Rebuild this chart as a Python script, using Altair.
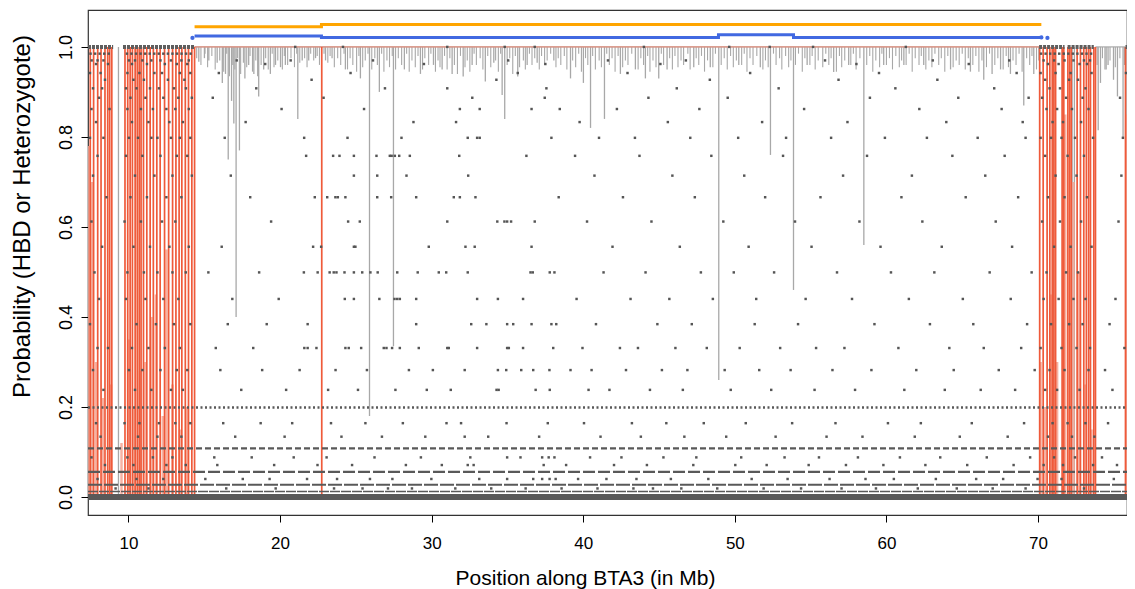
import altair as alt
import pandas as pd

FONT = "Liberation Sans"
X_DOMAIN = [7.33, 75.87]
Y_DOMAIN = [-0.04, 1.082]

# ---- HBD segment tracks at the top ----
orange_x = [14.36, 22.73, 70.22]
orange_y = [1.045, 1.050, 1.050]
blue_x = [14.36, 22.73, 48.92, 53.87, 70.22]
blue_y = [1.024, 1.021, 1.027, 1.021, 1.021]
blue_dot_x = [14.22, 70.22, 70.62]
blue_dot_y = [1.020, 1.021, 1.020]

# ---- red probability line (full-height swings) ----
red_x = [7.48, 7.70, 7.97, 8.19, 8.45, 8.63, 8.76, 8.90, 9.77, 9.95, 10.11, 10.26,
         10.44, 10.58, 10.71, 10.83, 10.99, 11.21, 11.43, 11.64, 11.87, 12.09, 12.38,
         12.65, 12.91, 13.13, 13.34, 13.52, 13.75, 13.96, 14.18, 14.36,
         22.75,
         70.11, 70.34, 70.60, 70.78, 70.94, 71.05, 71.16, 71.59, 71.70, 71.97, 72.09,
         72.19, 72.58, 72.80, 73.02, 73.19, 73.34, 73.46, 73.68, 73.79, 75.77]
# partial (lighter) swings: position and top value
salmon_x = [7.41, 7.58, 7.86, 8.31, 8.85, 9.54, 10.03, 10.33, 10.77, 11.12, 11.52,
            11.81, 12.26, 12.51, 12.90, 13.39, 13.88,
            70.17, 70.47, 70.86, 71.26, 71.80, 72.34, 72.69, 73.13, 73.53, 75.83]
salmon_top = [0.78, 0.70, 0.30, 0.22, 0.25, 0.12, 0.35, 0.20, 0.28, 0.30, 0.40,
              0.45, 0.18, 0.55, 0.25, 0.15, 0.20,
              0.30, 0.20, 0.45, 0.30, 0.85, 0.70, 0.50, 0.25, 0.15, 0.85]
red_top_start = [14.36]
red_top_end = [70.22]

# ---- grey probability line: flat at 1.0 with dips ----
grey_base_start = [14.36, 73.79]
grey_base_end = [70.22, 75.77]
dip_x = [14.64, 15.01, 15.30, 15.85, 16.19, 16.40, 16.58, 16.80, 16.95, 17.10, 17.32,
         17.68, 17.93, 18.27, 18.59, 18.92, 19.36, 19.70, 20.03, 20.35, 21.17, 21.46,
         21.89, 22.34, 23.00, 23.43, 24.31, 25.30, 25.90, 26.55, 27.48, 28.20, 29.26,
         30.12, 30.69, 31.35, 32.08, 32.67, 33.54, 34.10, 34.65, 34.82, 35.68, 36.30,
         36.96, 38.06, 39.16, 40.01, 40.48, 41.40, 42.45, 43.44, 44.10, 44.98, 45.53,
         47.29, 48.38, 48.94, 50.26, 51.68, 52.35, 53.87, 54.77, 56.52, 57.51, 58.51,
         59.82, 61.15, 62.46, 64.23, 65.54, 66.42, 66.97, 67.53, 68.18, 69.06, 69.72,
         73.97, 74.12, 74.42, 74.62, 74.98, 75.24, 75.61,
         9.34, 71.02, 72.25, 72.40]
dip_y = [0.967, 0.975, 0.970, 0.965, 0.920, 0.940, 0.750, 0.880, 0.830, 0.400, 0.770,
         0.930, 0.960, 0.940, 0.890, 0.950, 0.940, 0.960, 0.955, 0.960, 0.840, 0.970,
         0.970, 0.975, 0.970, 0.975, 0.950, 0.930, 0.180, 0.900, 0.335, 0.950, 0.940,
         0.960, 0.950, 0.940, 0.934, 0.960, 0.923, 0.965, 0.893, 0.840, 0.934, 0.960,
         0.965, 0.970, 0.930, 0.920, 0.820, 0.840, 0.940, 0.950, 0.930, 0.930, 0.950,
         0.955, 0.955, 0.260, 0.960, 0.955, 0.760, 0.460, 0.960, 0.944, 0.960, 0.560,
         0.960, 0.960, 0.960, 0.950, 0.945, 0.927, 0.940, 0.950, 0.940, 0.870, 0.940,
         0.815, 0.920, 0.950, 0.960, 0.927, 0.890, 0.800,
         0.000, 0.110, 0.000, 0.000]
# small dips that give the line its hairy look (position, minimum)
fuzz = [(14.50, 0.975), (14.78, 0.960), (15.05, 0.985), (15.22, 0.955), (15.50, 0.980),
        (15.72, 0.950), (16.02, 0.970), (16.28, 0.945), (16.48, 0.985), (16.66, 0.935),
        (16.88, 0.960), (17.02, 0.950), (17.20, 0.975), (17.40, 0.940), (17.58, 0.965),
        (17.80, 0.955), (18.02, 0.980), (18.18, 0.945), (18.40, 0.970), (18.52, 0.935),
        (18.75, 0.960), (19.05, 0.975), (19.22, 0.950), (19.48, 0.985), (19.60, 0.955),
        (19.85, 0.970), (20.15, 0.950), (20.28, 0.980), (20.50, 0.960), (20.72, 0.975),
        (20.95, 0.955), (21.10, 0.985), (21.30, 0.965), (21.62, 0.975), (21.78, 0.955),
        (22.02, 0.985), (22.22, 0.970), (22.45, 0.980), (22.60, 0.960), (22.90, 0.985),
        (23.15, 0.965), (23.30, 0.980), (23.58, 0.955), (23.80, 0.975), (24.00, 0.960),
        (24.22, 0.985), (24.45, 0.950), (24.62, 0.975), (24.80, 0.960), (25.05, 0.945),
        (25.20, 0.980), (25.45, 0.955), (25.62, 0.970), (25.80, 0.985), (26.05, 0.950),
        (26.25, 0.975), (26.42, 0.960), (26.70, 0.985), (26.85, 0.945), (27.05, 0.970),
        (27.22, 0.955), (27.40, 0.980), (27.62, 0.950), (27.80, 0.975), (28.02, 0.960),
        (28.35, 0.985), (28.52, 0.945), (28.70, 0.970), (28.92, 0.955), (29.10, 0.980),
        (29.40, 0.950), (29.55, 0.975), (29.80, 0.960), (29.95, 0.985), (30.25, 0.945),
        (30.42, 0.970), (30.55, 0.955), (30.85, 0.980), (31.02, 0.950), (31.20, 0.975),
        (31.50, 0.960), (31.70, 0.940), (31.90, 0.980), (32.20, 0.955), (32.35, 0.970),
        (32.52, 0.945), (32.80, 0.985), (32.95, 0.960), (33.20, 0.975), (33.38, 0.950),
        (33.70, 0.980), (33.90, 0.955), (34.22, 0.970), (34.40, 0.945), (34.55, 0.985),
        (34.98, 0.960), (35.15, 0.975), (35.35, 0.940), (35.52, 0.980), (35.80, 0.955),
        (36.05, 0.970), (36.18, 0.950), (36.45, 0.985), (36.62, 0.960), (36.80, 0.975),
        (37.10, 0.950), (37.25, 0.980), (37.45, 0.960), (37.62, 0.970), (37.85, 0.985),
        (38.20, 0.955), (38.35, 0.975), (38.52, 0.960), (38.75, 0.980), (38.92, 0.950),
        (39.30, 0.970), (39.50, 0.955), (39.70, 0.985), (39.88, 0.945), (40.15, 0.975),
        (40.30, 0.960), (40.62, 0.980), (40.80, 0.950), (41.05, 0.970), (41.20, 0.955),
        (41.55, 0.985), (41.72, 0.960), (41.90, 0.975), (42.10, 0.945), (42.30, 0.980),
        (42.60, 0.955), (42.78, 0.970), (42.95, 0.960), (43.20, 0.985), (43.62, 0.950),
        (43.80, 0.975), (43.98, 0.960), (44.25, 0.980), (44.40, 0.945), (44.60, 0.970),
        (44.80, 0.955), (45.15, 0.985), (45.30, 0.960), (45.70, 0.975), (45.88, 0.950),
        (46.05, 0.980), (46.25, 0.955), (46.45, 0.970), (46.62, 0.960), (46.90, 0.985),
        (47.05, 0.950), (47.45, 0.975), (47.62, 0.960), (47.80, 0.980), (48.00, 0.945),
        (48.20, 0.970), (48.55, 0.955), (48.72, 0.985), (49.10, 0.960), (49.30, 0.975),
        (49.50, 0.950), (49.72, 0.980), (49.90, 0.955), (50.10, 0.970), (50.45, 0.960),
        (50.62, 0.985), (50.80, 0.945), (51.00, 0.975), (51.20, 0.960), (51.45, 0.980),
        (51.85, 0.950), (52.02, 0.970), (52.20, 0.955), (52.55, 0.985), (52.72, 0.960),
        (52.95, 0.975), (53.10, 0.950), (53.35, 0.980), (53.55, 0.955), (53.70, 0.970),
        (54.00, 0.960), (54.20, 0.985), (54.45, 0.945), (54.62, 0.975), (54.95, 0.960),
        (55.10, 0.980), (55.30, 0.950), (55.50, 0.970), (55.80, 0.955), (56.00, 0.985),
        (56.20, 0.960), (56.35, 0.975), (56.70, 0.945), (56.90, 0.980), (57.05, 0.955),
        (57.25, 0.970), (57.65, 0.960), (57.82, 0.985), (58.00, 0.950), (58.25, 0.975),
        (58.70, 0.960), (58.90, 0.980), (59.10, 0.945), (59.30, 0.970), (59.55, 0.955),
        (59.70, 0.985), (60.00, 0.960), (60.20, 0.975), (60.40, 0.950), (60.62, 0.980),
        (60.85, 0.955), (61.00, 0.970), (61.30, 0.960), (61.50, 0.985), (61.70, 0.945),
        (61.90, 0.975), (62.15, 0.960), (62.30, 0.980), (62.60, 0.950), (62.80, 0.970),
        (63.00, 0.955), (63.20, 0.985), (63.45, 0.960), (63.62, 0.975), (63.85, 0.945),
        (64.05, 0.980), (64.40, 0.955), (64.60, 0.970), (64.80, 0.960), (65.00, 0.985),
        (65.20, 0.950), (65.40, 0.975), (65.70, 0.960), (65.90, 0.980), (66.10, 0.945),
        (66.30, 0.970), (66.60, 0.955), (66.80, 0.985), (67.15, 0.960), (67.35, 0.975),
        (67.70, 0.950), (67.90, 0.980), (68.05, 0.955), (68.35, 0.970), (68.55, 0.960),
        (68.75, 0.985), (68.95, 0.945), (69.25, 0.975), (69.45, 0.960), (69.60, 0.980),
        (69.90, 0.950), (70.05, 0.970),
        (73.90, 0.960), (74.25, 0.975), (74.50, 0.950), (74.75, 0.970), (75.10, 0.955),
        (75.40, 0.975), (75.70, 0.960)]

# ---- genotype-probability points: dense rows (drawn as dotted runs) ----
band_levels = [0.0, 0.012, 0.027, 0.056, 0.108, 0.199]
band_start = [7.33, 7.33, 7.33, 7.33, 7.33, 7.33]
band_end = [75.87, 75.87, 75.87, 75.87, 75.87, 75.87]
top_band_start = [7.33, 9.64, 70.07, 71.95, 75.77]
top_band_end = [8.99, 14.38, 71.75, 73.68, 75.87]

# ---- genotype-probability points: sparse rows ----
lvl_100 = [21.0, 24.15, 31.03, 34.82, 36.80, 44.0, 49.63, 52.30, 55.16, 61.28]
lvl_098 = [7.5, 7.8, 8.1, 8.4, 8.7, 9.9, 10.2, 10.5, 10.8, 11.1, 11.4, 11.7, 12.0, 12.3,
           12.6, 12.9, 13.2, 13.5, 13.8, 14.1, 70.2, 70.5, 70.8, 71.1, 71.4, 71.7, 72.0,
           72.3, 72.6, 72.9, 73.2, 73.5]
lvl_097 = [7.57, 7.96, 8.35, 10.03, 10.43, 10.92, 11.51, 12.11, 12.80, 13.49, 13.98, 17.14,
           20.70, 26.13, 35.05, 41.63, 46.77, 55.95, 63.06, 68.10, 70.37, 71.06, 71.75,
           72.34, 73.03, 73.43]
lvl_096 = [7.86, 8.65, 10.23, 11.22, 12.40, 13.19, 13.88, 19.02, 29.49, 37.50, 45.09, 58.02,
           65.43, 70.66, 71.36, 72.74, 73.23]
lvl_094 = [7.46, 8.16, 9.93, 10.72, 11.71, 12.21, 13.39, 14.08, 15.96, 24.65, 35.68, 42.92,
           51.01, 59.51, 68.59, 70.17, 71.16, 72.15, 73.53, 75.80]
lvl_093 = [8.45, 10.33, 11.02, 12.60, 13.69, 22.08, 34.27, 48.35, 56.84, 63.36, 70.47,
           72.05, 72.64]
lvl_091 = [7.66, 8.26, 9.84, 10.53, 11.42, 12.01, 13.00, 13.79, 18.43, 26.92, 31.03, 37.57,
           46.17, 52.89, 60.59, 67.11, 70.76, 71.45, 73.13]
lvl_089 = [8.06, 10.13, 11.12, 12.30, 13.29, 14.18, 15.56, 22.87, 32.68, 37.46, 44.30,
           49.53, 58.91, 64.74, 69.38, 70.27, 71.85, 72.94, 75.41]
lvl_086 = [7.56, 8.75, 9.93, 10.82, 11.61, 12.50, 13.09, 13.98, 20.10, 25.54, 31.86, 33.17,
           36.59, 38.45, 42.22, 47.66, 54.57, 62.17, 67.60, 70.56, 71.26, 72.24, 73.33]
lvl_083 = [7.86, 10.23, 11.32, 12.70, 13.59, 17.73, 28.80, 31.61, 39.76, 45.58, 51.80,
           57.43, 63.95, 68.99, 70.96, 71.65, 72.84]
lvl_080 = [7.46, 8.35, 10.03, 10.63, 11.51, 11.91, 12.80, 13.39, 14.08, 16.35, 21.59,
           24.45, 28.01, 32.38, 33.00, 33.17, 37.90, 41.04, 43.41, 47.06, 50.22, 53.38,
           56.35, 59.90, 62.67, 66.02, 69.18, 70.17, 70.86, 71.55, 72.44, 73.63, 75.60]
lvl_076 = [7.96, 9.84, 10.92, 12.11, 13.19, 13.88, 21.72, 23.50, 23.92, 24.87, 26.36, 27.24,
           27.36, 27.57, 27.86, 28.56, 31.82, 36.25, 39.46, 43.71, 48.45, 53.18, 58.72,
           64.35, 67.80, 70.47, 71.95, 73.03]
lvl_071 = [7.66, 10.43, 11.71, 12.90, 14.18, 16.75, 24.87, 26.41, 28.34, 32.41, 40.74,
           45.88, 50.62, 57.14, 61.68, 66.52, 71.16, 72.54, 75.50]
lvl_067 = [8.55, 10.13, 11.22, 12.50, 13.49, 18.03, 22.29, 23.11, 23.65, 23.81, 24.31,
           26.41, 27.33, 28.98, 31.46, 31.86, 32.89, 38.38, 42.62, 47.36, 52.00, 55.65,
           60.99, 65.23, 68.69, 70.66, 71.75, 73.23]
lvl_061 = [7.56, 9.74, 10.82, 12.21, 13.09, 19.41, 24.49, 25.26, 31.03, 34.33, 34.80,
           34.98, 35.24, 36.80, 40.25, 44.50, 49.24, 53.97, 58.22, 62.37, 67.21, 70.27,
           71.45, 72.84, 75.31]
lvl_056 = [8.26, 10.33, 11.42, 12.70, 13.98, 16.15, 22.18, 22.71, 24.87, 24.97, 29.81,
           32.23, 32.84, 36.59, 41.93, 46.37, 50.91, 55.06, 59.61, 63.65, 68.29, 71.06,
           72.15, 73.53]
lvl_050 = [7.76, 9.93, 11.02, 11.91, 12.90, 13.78, 15.27, 18.62, 21.57, 22.48, 23.27,
           23.54, 23.72, 24.25, 24.87, 25.42, 25.96, 26.44, 27.73, 29.08, 30.47, 30.96,
           32.38, 36.52, 36.67, 37.79, 38.10, 41.34, 44.11, 47.76, 49.93, 52.59, 56.74,
           60.30, 63.16, 66.81, 69.58, 70.56, 71.85, 72.64]
lvl_044 = [8.06, 9.84, 11.12, 12.30, 13.29, 16.85, 19.91, 24.27, 24.87, 26.55, 27.55,
           27.73, 27.90, 28.98, 33.00, 34.37, 36.03, 39.56, 43.12, 45.68, 48.55, 51.41,
           54.67, 57.73, 61.48, 65.04, 68.20, 70.37, 71.36, 72.34, 73.13, 75.11]
lvl_038 = [7.46, 10.53, 11.81, 13.00, 14.08, 16.55, 19.12, 21.82, 28.98, 32.61, 33.61,
           34.98, 35.38, 36.59, 37.90, 38.22, 40.84, 44.89, 47.16, 51.31, 54.17, 59.21,
           62.87, 65.73, 69.28, 70.86, 72.05, 72.94, 74.72]
lvl_033 = [7.96, 8.65, 10.23, 11.32, 12.40, 13.39, 15.76, 18.23, 21.60, 21.82, 22.40,
           24.31, 24.53, 25.35, 26.84, 27.02, 27.39, 27.90, 29.15, 31.03, 31.13, 33.00,
           34.98, 35.09, 36.03, 38.02, 39.95, 42.42, 43.61, 46.08, 48.15, 50.32, 52.99,
           55.36, 57.23, 60.79, 64.15, 66.42, 68.89, 70.17, 71.55, 72.54, 73.43, 75.70]
lvl_028 = [7.66, 10.03, 10.92, 12.11, 13.19, 13.88, 16.06, 18.82, 21.29, 23.66, 25.73,
           28.50, 30.08, 32.18, 34.37, 34.92, 35.91, 36.70, 37.77, 39.16, 40.55, 42.82,
           45.19, 46.87, 49.33, 51.61, 53.68, 56.44, 59.01, 61.97, 64.44, 67.41, 69.78,
           70.76, 71.75, 73.33, 74.42]
lvl_024 = [8.35, 10.43, 11.51, 12.80, 13.59, 17.44, 20.40, 23.17, 25.14, 27.61, 29.68,
           31.26, 34.28, 34.42, 36.86, 37.79, 40.35, 41.73, 44.40, 46.57, 49.73, 52.40,
           55.26, 57.93, 61.18, 63.85, 66.22, 68.49, 70.47, 71.26, 72.74, 74.91]
lvl_016 = [7.86, 9.74, 10.72, 12.01, 13.09, 14.08, 16.25, 18.72, 20.80, 23.36, 25.63,
           28.10, 30.98, 31.94, 34.94, 37.66, 40.05, 43.21, 45.48, 47.95, 50.72, 53.78,
           56.64, 60.10, 62.27, 65.63, 69.08, 70.96, 71.95, 73.13, 74.62]
lvl_013 = [8.16, 10.63, 11.91, 13.49, 17.04, 20.30, 24.05, 26.72, 29.58, 32.18, 33.73,
           37.09, 41.14, 43.80, 46.67, 49.43, 52.69, 56.05, 58.42, 61.87, 64.84, 68.00,
           70.66, 72.24, 73.72]
lvl_009 = [7.56, 9.93, 11.61, 12.90, 15.66, 18.13, 20.90, 23.07, 26.23, 29.29, 32.55,
           34.98, 35.86, 37.29, 37.72, 38.10, 40.45, 42.52, 45.29, 47.46, 50.42, 53.28,
           55.55, 58.12, 60.89, 63.55, 66.62, 69.48, 71.06, 72.44, 74.22]
lvl_007 = [8.45, 10.33, 12.50, 13.78, 15.86, 19.61, 22.47, 24.75, 28.30, 30.67, 32.38,
           32.77, 37.39, 38.87, 42.03, 44.20, 47.26, 50.03, 52.10, 54.87, 57.33, 59.80,
           62.57, 65.33, 68.39, 70.37, 71.65, 73.63, 75.21]
lvl_004 = [7.96, 10.53, 12.30, 15.07, 17.54, 19.31, 21.78, 23.76, 25.93, 27.41, 29.98,
           33.14, 34.98, 36.70, 37.29, 37.78, 38.18, 39.66, 41.53, 43.51, 45.78, 48.25,
           51.11, 53.48, 56.25, 58.62, 60.49, 63.26, 65.92, 67.70, 69.97, 71.55, 75.00]
lvl_002 = [9.15, 11.32, 16.45, 19.71, 23.56, 25.44, 27.12, 28.70, 31.56, 33.93, 36.20,
           38.57, 40.94, 43.31, 44.60, 46.47, 48.84, 51.90, 54.37, 57.04, 59.31, 62.07,
           64.64, 67.01, 69.18, 73.03]

sparse_rows = [
    (1.000, lvl_100), (0.985, lvl_098), (0.970, lvl_097), (0.962, lvl_096),
    (0.942, lvl_094), (0.927, lvl_093), (0.908, lvl_091), (0.887, lvl_089),
    (0.862, lvl_086), (0.833, lvl_083), (0.798, lvl_080), (0.758, lvl_076),
    (0.714, lvl_071), (0.666, lvl_067), (0.612, lvl_061), (0.556, lvl_056),
    (0.499, lvl_050), (0.440, lvl_044), (0.384, lvl_038), (0.331, lvl_033),
    (0.282, lvl_028), (0.238, lvl_024), (0.164, lvl_016), (0.134, lvl_013),
    (0.088, lvl_009), (0.071, lvl_007), (0.040, lvl_004), (0.019, lvl_002),
]

# ---------------------------------------------------------------------------
xs = alt.Scale(domain=X_DOMAIN, nice=False, zero=False)
ys = alt.Scale(domain=Y_DOMAIN, nice=False, zero=False)

x_axis = alt.Axis(values=[10, 20, 30, 40, 50, 60, 70], grid=False, domain=False,
                  tickSize=7, tickColor="#000", labelColor="#000", labelFontSize=17,
                  labelFont=FONT, labelPadding=13, titleFont=FONT, titleFontSize=21,
                  titleFontWeight="normal", titleColor="#000",
                  titleX=497, titleY=63, titleBaseline="middle", titleAlign="center")
y_axis = alt.Axis(values=[0, 0.2, 0.4, 0.6, 0.8, 1.0], format=".1f", grid=False,
                  domain=False, tickSize=7, tickColor="#000", labelColor="#000",
                  labelFontSize=18, labelFont=FONT, labelAngle=270, labelAlign="center",
                  labelBaseline="bottom", labelPadding=6, titleFont=FONT,
                  titleFontSize=24, titleFontWeight="normal", titleColor="#000",
                  titleX=-66, titleY=206, titleAngle=270, titleBaseline="middle",
                  titleAlign="center")


def X(field):
    return alt.X(field, type="quantitative", scale=xs, axis=x_axis,
                 title="Position along BTA3 (in Mb)")


def Y(field):
    return alt.Y(field, type="quantitative", scale=ys, axis=y_axis,
                 title="Probability (HBD or Heterozygote)")


layers = []

# grey line base + dips
gb = pd.DataFrame({"x": grey_base_start, "x2": grey_base_end, "y": [1.0] * len(grey_base_start)})
layers.append(alt.Chart(gb).mark_rule(color="#A8A8A8", strokeWidth=1.2, clip=True)
              .encode(x=X("x"), x2="x2", y=Y("y")))
fz = pd.DataFrame({"x": [f[0] for f in fuzz], "top": [1.0] * len(fuzz),
                   "y": [f[1] for f in fuzz]})
layers.append(alt.Chart(fz).mark_rule(color="#A8A8A8", strokeWidth=1.1, clip=True)
              .encode(x=X("x"), y=Y("top"), y2="y"))
dp = pd.DataFrame({"x": dip_x, "top": [1.0] * len(dip_x), "y": dip_y})
layers.append(alt.Chart(dp).mark_rule(color="#A8A8A8", strokeWidth=1.3, clip=True)
              .encode(x=X("x"), y=Y("top"), y2="y"))

# lighter partial red swings
sm = pd.DataFrame({"x": salmon_x, "bot": [0.0] * len(salmon_x), "y": salmon_top})
layers.append(alt.Chart(sm).mark_rule(color="#F4A593", strokeWidth=2.5, opacity=0.85, clip=True)
              .encode(x=X("x"), y=Y("bot"), y2="y"))
# thin red line at 1.0
rt = pd.DataFrame({"x": red_top_start, "x2": red_top_end, "y": [1.0]})
layers.append(alt.Chart(rt).mark_rule(color="#F28A74", strokeWidth=1, clip=True)
              .encode(x=X("x"), x2="x2", y=Y("y")))
# full red swings
rd = pd.DataFrame({"x": red_x, "bot": [0.0] * len(red_x), "top": [1.0] * len(red_x)})
layers.append(alt.Chart(rd).mark_rule(color="#EF5A3A", strokeWidth=1.7, clip=True)
              .encode(x=X("x"), y=Y("bot"), y2="top"))

# dense point rows
band_styles = [(6, None), (1.5, [10, 1]), (2, [14, 2]), (2.2, [12, 3]), (2.2, [6, 3]),
               (2.5, [2, 2.5])]
for lv, s, e, (w, dash) in zip(band_levels, band_start, band_end, band_styles):
    df = pd.DataFrame({"x": [s], "x2": [e], "y": [lv]})
    kw = {"strokeDash": dash} if dash else {}
    layers.append(alt.Chart(df).mark_rule(color="#595959", strokeWidth=w, clip=True, **kw)
                  .encode(x=X("x"), x2="x2", y=Y("y")))
tb = pd.DataFrame({"x": top_band_start, "x2": top_band_end, "y": [1.0] * len(top_band_start)})
layers.append(alt.Chart(tb).mark_rule(color="#5E5E5E", strokeWidth=4, strokeDash=[3, 1], clip=True)
              .encode(x=X("x"), x2="x2", y=Y("y")))

# sparse points
px, py = [], []
for lv, xs_list in sparse_rows:
    px.extend(xs_list)
    py.extend([lv] * len(xs_list))
pts = pd.DataFrame({"x": px, "y": py})
layers.append(alt.Chart(pts).mark_square(color="#555555", size=6, opacity=1, clip=True)
              .encode(x=X("x"), y=Y("y")))

# HBD segment tracks
od = pd.DataFrame({"x": orange_x, "y": orange_y})
layers.append(alt.Chart(od).mark_line(color="#FFA500", strokeWidth=3, interpolate="step-after")
              .encode(x=X("x"), y=Y("y")))
bd = pd.DataFrame({"x": blue_x, "y": blue_y})
layers.append(alt.Chart(bd).mark_line(color="#4169E1", strokeWidth=3, interpolate="step-after")
              .encode(x=X("x"), y=Y("y")))
bdd = pd.DataFrame({"x": blue_dot_x, "y": blue_dot_y})
layers.append(alt.Chart(bdd).mark_circle(color="#4169E1", size=18, opacity=1)
              .encode(x=X("x"), y=Y("y")))

chart = (alt.layer(*layers)
         .properties(width=1039, height=505,
                     padding={"left": 80, "top": 2, "right": 0, "bottom": 74},
                     autosize="none", background="white")
         .configure_view(stroke="#333333", strokeWidth=1.2)
         .configure_axis(labelFont=FONT, titleFont=FONT))

chart.save("out.html", embed_options={"renderer": "svg", "actions": False})
